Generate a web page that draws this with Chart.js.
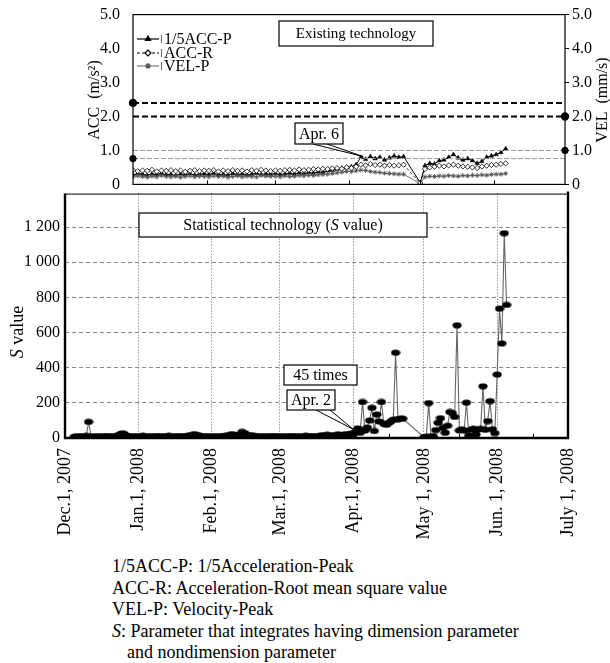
<!DOCTYPE html>
<html lang="en">
<head>
<meta charset="utf-8">
<style>
  body { margin: 0; background: #fff; width: 610px; height: 663px; position: relative; overflow: hidden;
         font-family: 'Liberation Serif', 'Times New Roman', serif; color: #000; }
  canvas { position: absolute; left: 0; }
  #topChart { top: 0; }
  #sChart { top: 179px; }
  .notes { position: absolute; left: 112px; top: 556px; font-size: 18px; line-height: 21.6px; white-space: nowrap; }
  .notes .indent { padding-left: 15px; }
</style>
</head>
<body>
<canvas id="topChart" width="610" height="199"></canvas>
<canvas id="sChart" width="610" height="369"></canvas>
<div class="notes">
  <div>1/5ACC-P: 1/5Acceleration-Peak</div>
  <div>ACC-R: Acceleration-Root mean square value</div>
  <div>VEL-P: Velocity-Peak</div>
  <div><i>S</i>: Parameter that integrates having dimension parameter</div>
  <div class="indent">and nondimension parameter</div>
</div>
<script src="https://cdn.jsdelivr.net/npm/chart.js"></script>
<script>
  const FONT = "'Liberation Serif', 'Times New Roman', serif";

  /* ---------------- data ---------------- */

  // month axis (days counted from Dec. 1, 2007)
  const monthDays = [0, 31, 62, 91, 122, 152, 183, 213];
  const monthLabels = ['Dec.1, 2007', 'Jan.1, 2008', 'Feb.1, 2008', 'Mar.1, 2008',
    'Apr.1, 2008', 'May 1, 2008', 'Jun. 1, 2008', 'July 1, 2008'];
  const midMonthDays = [15, 46, 76, 106, 137, 167, 198];
  const topTicks = [0, 1, 2, 3, 4, 5];
  const sTicks = [0, 200, 400, 600, 800, 1000, 1200];

  // existing technology: sampled dates (2008, MM-DD)
  const topDates = [
    '01-01', '01-03', '01-05', '01-07', '01-09', '01-11', '01-13', '01-15', '01-17', '01-19', '01-21', '01-23', '01-25', '01-27', '01-29', '01-31',
    '02-02', '02-04', '02-06', '02-08', '02-10', '02-12', '02-14', '02-16', '02-18', '02-20', '02-22', '02-24', '02-26', '02-28',
    '03-01', '03-03', '03-05', '03-07', '03-09', '03-11', '03-13', '03-15', '03-17', '03-19', '03-21', '03-23', '03-25', '03-27', '03-29', '03-31',
    '04-02', '04-04', '04-06', '04-08', '04-10', '04-12', '04-14', '04-16', '04-18', '04-20', '04-22', '04-24',
    '05-01', '05-03', '05-05', '05-07', '05-09', '05-11', '05-13', '05-15', '05-17', '05-19', '05-21', '05-23', '05-25', '05-27', '05-29', '05-31',
    '06-02', '06-04', '06-06'
  ];
  const accP = [
    0.28, 0.32, 0.30, 0.27, 0.31, 0.29, 0.33, 0.28, 0.30, 0.26, 0.31, 0.29, 0.32, 0.27, 0.30, 0.31,
    0.29, 0.33, 0.28, 0.30, 0.27, 0.32, 0.29, 0.31, 0.28, 0.30, 0.33, 0.29, 0.31, 0.30,
    0.32, 0.29, 0.31, 0.33, 0.30, 0.34, 0.32, 0.35, 0.33, 0.37, 0.36, 0.40, 0.42, 0.45, 0.48, 0.50,
    0.52, 0.58, 0.80, 0.74, 0.82, 0.76, 0.80, 0.72, 0.78, 0.84, 0.80, 0.82,
    0.05, 0.55, 0.62, 0.60, 0.70, 0.72, 0.80, 0.88, 0.78, 0.72, 0.76, 0.70, 0.62, 0.68, 0.80, 0.84,
    0.88, 0.94, 1.05
  ];
  const accR = [
    0.42, 0.39, 0.41, 0.40, 0.43, 0.38, 0.41, 0.40, 0.42, 0.39, 0.41, 0.37, 0.40, 0.42, 0.39, 0.41,
    0.40, 0.42, 0.38, 0.41, 0.39, 0.42, 0.40, 0.41, 0.38, 0.42, 0.40, 0.43, 0.41, 0.39,
    0.41, 0.40, 0.42, 0.43, 0.41, 0.44, 0.42, 0.43, 0.45, 0.44, 0.46, 0.45, 0.47, 0.48, 0.46, 0.50,
    0.48, 0.52, 0.58, 0.56, 0.60, 0.57, 0.58, 0.55, 0.57, 0.55, 0.56, 0.58,
    0.04, 0.45, 0.50, 0.52, 0.55, 0.53, 0.56, 0.58, 0.55, 0.53, 0.52, 0.50, 0.48, 0.53, 0.55, 0.57,
    0.58, 0.60, 0.62
  ];
  const velP = [
    0.22, 0.25, 0.23, 0.21, 0.24, 0.22, 0.26, 0.23, 0.22, 0.24, 0.21, 0.23, 0.25, 0.22, 0.24, 0.23,
    0.22, 0.25, 0.23, 0.24, 0.21, 0.23, 0.25, 0.22, 0.24, 0.23, 0.22, 0.26, 0.24, 0.23,
    0.24, 0.22, 0.25, 0.23, 0.24, 0.26, 0.25, 0.27, 0.26, 0.28, 0.29, 0.30, 0.32, 0.34, 0.36, 0.38,
    0.38, 0.40, 0.42, 0.41, 0.38, 0.36, 0.35, 0.33, 0.32, 0.31, 0.30, 0.30,
    0.02, 0.22, 0.24, 0.23, 0.25, 0.24, 0.26, 0.25, 0.24, 0.26, 0.25, 0.27, 0.26, 0.28, 0.27, 0.29,
    0.30, 0.30, 0.32
  ];
  const accLimits = [2.4, 0.76];  // left axis, dot on the left
  const velLimits = [2.0, 1.0];   // right axis, dot on the right

  // statistical technology: daily S value, index = day of month - 1
  const sDec = [null, null, null, null, 8, 9, 10, 8, 9, 12, 92, 10, 8, 9, 10, 9, 8, 10, 11, 9, 8, 10, 12, 18, 26, 24, 14, 10, 9, 8, 10];
  const sJan = [9, 8, 12, 10, 9, 8, 10, 9, 11, 10, 8, 9, 10, 12, 9, 8, 10, 9, 11, 10, 9, 12, 14, 18, 22, 16, 12, 10, 9, 10, 8];
  const sFeb = [9, 10, 8, 9, 10, 11, 12, 14, 18, 22, 15, 12, 20, 35, 28, 18, 16, 14, 12, 10, 9, 10, 8, 9, 10, 9, 11, 10, 9];
  const sMar = [9, 10, 8, 9, 10, 11, 9, 10, 8, 9, 10, 12, 10, 9, 11, 10, 9, 12, 14, 16, 18, 15, 12, 14, 18, 20, 16, 18, 20, 22, 25];
  const sApr = [20, 35, 55, 30, 205, 43, 60, 100, 172, 40, 134, 94, 205, 81, 75, 85, 95, 104, 485, 108, 110, 110,
    null, null, null, null, null, null, null, null];
  const sMay = [5, 8, 199, 10, 8, 45, 87, 113, 58, 30, 70, 148, 142, 120, 641, 43, 50, 43, 201, 14, 47, 53, 20, 48, 52, 294, 47, 96, 210, 50, 28];
  const sJun = [361, 736, 538, 1165, 757];

  /* ---------------- helpers ---------------- */

  const BASE = Date.UTC(2007, 11, 1);
  function dayOf(y, m, d) {
    return (Date.UTC(y, m - 1, d) - BASE) / 86400000;
  }

  function topPoints(values) {
    return topDates.map((s, i) => ({ x: dayOf(2008, +s.slice(0, 2), +s.slice(3)), y: values[i] }));
  }

  const sPoints = [];
  [[2007, 12, sDec], [2008, 1, sJan], [2008, 2, sFeb], [2008, 3, sMar], [2008, 4, sApr], [2008, 5, sMay], [2008, 6, sJun]]
    .forEach(([y, m, vals]) => vals.forEach((v, i) => {
      if (v !== null) sPoints.push({ x: dayOf(y, m, i + 1), y: v });
    }));

  function richText(ctx, parts, cx, cy, size) {
    size = size || 16;
    let w = 0;
    parts.forEach(p => {
      ctx.font = (p.i ? 'italic ' : '') + size + 'px ' + FONT;
      w += ctx.measureText(p.t).width;
    });
    let x = cx - w / 2;
    ctx.textBaseline = 'middle';
    ctx.textAlign = 'left';
    ctx.fillStyle = '#000';
    parts.forEach(p => {
      ctx.font = (p.i ? 'italic ' : '') + size + 'px ' + FONT;
      ctx.fillText(p.t, x, cy);
      x += ctx.measureText(p.t).width;
    });
  }

  function textBox(ctx, parts, x1, y1, x2, y2, size) {
    ctx.save();
    ctx.fillStyle = '#fff';
    ctx.fillRect(x1, y1, x2 - x1, y2 - y1);
    ctx.strokeStyle = '#000';
    ctx.lineWidth = 1.2;
    ctx.strokeRect(x1, y1, x2 - x1, y2 - y1);
    richText(ctx, parts, (x1 + x2) / 2, (y1 + y2) / 2 + 1, size);
    ctx.restore();
  }

  function wedge(ctx, ax, bx, by, tx, ty) {
    ctx.save();
    ctx.beginPath();
    ctx.moveTo(ax, by);
    ctx.lineTo(tx, ty);
    ctx.lineTo(bx, by);
    ctx.fillStyle = '#fff';
    ctx.fill();
    ctx.strokeStyle = '#000';
    ctx.lineWidth = 1;
    ctx.stroke();
    ctx.restore();
  }

  function vTitle(ctx, parts, cx, cy, size) {
    ctx.save();
    ctx.translate(cx, cy);
    ctx.rotate(-Math.PI / 2);
    richText(ctx, parts, 0, 0, size || 16);
    ctx.restore();
  }

  /* ---------------- top chart ---------------- */

  const limitSets = [];
  accLimits.forEach((v, i) => limitSets.push({
    data: [{ x: 31, y: v }, { x: 213, y: v }], yAxisID: 'y',
    borderColor: i === 0 ? '#000' : '#999', borderWidth: i === 0 ? 2 : 1, borderDash: i === 0 ? [6, 3] : [5, 2],
    pointRadius: [3.2, 0], pointBackgroundColor: '#000', pointBorderColor: '#000', clip: false
  }));
  velLimits.forEach((v, i) => limitSets.push({
    data: [{ x: 31, y: v }, { x: 213, y: v }], yAxisID: 'y2',
    borderColor: i === 0 ? '#000' : '#999', borderWidth: i === 0 ? 2 : 1, borderDash: i === 0 ? [6, 3] : [5, 2],
    pointRadius: [0, 3.2], pointBackgroundColor: '#000', pointBorderColor: '#000', clip: false
  }));

  const seriesStyle = {
    'ACC-R': { borderColor: '#000', borderWidth: 0.8, borderDash: [3, 2], pointStyle: 'rectRot', pointRadius: 2.6,
      pointBackgroundColor: '#fff', pointBorderColor: '#000', pointBorderWidth: 0.8 },
    'VEL-P': { borderColor: '#777', borderWidth: 1, pointStyle: 'star', pointRadius: 2.4,
      pointBackgroundColor: '#555', pointBorderColor: '#555', pointBorderWidth: 0.9 },
    '1/5ACC-P': { borderColor: '#000', borderWidth: 1, pointStyle: 'triangle', pointRadius: 2.6,
      pointBackgroundColor: '#000', pointBorderColor: '#000', pointBorderWidth: 0.5 }
  };

  const topDecor = {
    id: 'topDecor',
    afterDraw(chart) {
      const ctx = chart.ctx;
      const a = chart.chartArea;
      const xs = chart.scales.x, ys = chart.scales.y;
      ctx.save();
      ctx.strokeStyle = '#000';
      ctx.lineWidth = 1.2;
      ctx.strokeRect(a.left, a.top, a.right - a.left, a.bottom - a.top);
      ctx.lineWidth = 1;
      monthDays.slice(2, 7).forEach(d => {
        const x = Math.round(xs.getPixelForValue(d)) + 0.5;
        ctx.beginPath();
        ctx.moveTo(x, a.bottom);
        ctx.lineTo(x, a.bottom - 4);
        ctx.stroke();
      });
      ctx.restore();

      vTitle(ctx, [{ t: 'ACC  (m/s²)' }], 95, 100);
      vTitle(ctx, [{ t: 'VEL  (mm/s)' }], 603, 100);

      // legend
      const rows = [['1/5ACC-P', 39], ['ACC-R', 53], ['VEL-P', 66]];
      rows.forEach(([name, y]) => {
        const st = seriesStyle[name];
        ctx.save();
        ctx.strokeStyle = st.borderColor;
        ctx.lineWidth = 1.2;
        ctx.setLineDash(st.borderDash || []);
        ctx.beginPath();
        ctx.moveTo(137, y);
        ctx.lineTo(159, y);
        ctx.stroke();
        ctx.setLineDash([]);
        ctx.fillStyle = st.pointBackgroundColor;
        ctx.strokeStyle = st.pointBorderColor;
        Chart.helpers.drawPoint(ctx, { pointStyle: st.pointStyle, radius: 3, rotation: 0, borderWidth: 1 }, 148, y);
        ctx.strokeStyle = '#777';
        ctx.beginPath();
        ctx.moveTo(161.5, y - 4);
        ctx.lineTo(161.5, y + 4);
        ctx.stroke();
        ctx.font = '16px ' + FONT;
        ctx.fillStyle = '#000';
        ctx.textBaseline = 'middle';
        ctx.textAlign = 'left';
        ctx.fillText(name, 164, y + 1);
        ctx.restore();
      });

      textBox(ctx, [{ t: 'Existing technology' }], 279, 21, 433, 46, 15);
      wedge(ctx, 313, 327, 144, xs.getPixelForValue(dayOf(2008, 4, 7)), ys.getPixelForValue(0.82));
      textBox(ctx, [{ t: 'Apr. 6' }], 295, 123, 343, 144, 16);
    }
  };

  const tickFont = { family: FONT, size: 16 };
  const topLabel = v => v === 0 ? '0' : v.toFixed(1);

  new Chart(document.getElementById('topChart'), {
    type: 'line',
    data: {
      datasets: limitSets.concat(['ACC-R', 'VEL-P', '1/5ACC-P'].map(name => Object.assign({
        label: name,
        data: topPoints(name === 'ACC-R' ? accR : name === 'VEL-P' ? velP : accP),
        yAxisID: name === 'VEL-P' ? 'y2' : 'y'
      }, seriesStyle[name])))
    },
    options: {
      responsive: false,
      animation: false,
      layout: { padding: { top: 14, bottom: 9, left: 0, right: 0 } },
      plugins: { legend: { display: false }, tooltip: { enabled: false } },
      scales: {
        x: { type: 'linear', min: 31, max: 213, display: false },
        y: {
          position: 'left', min: 0, max: 5,
          afterBuildTicks: s => { s.ticks = topTicks.map(v => ({ value: v })); },
          ticks: { padding: 5, color: '#000', font: tickFont, callback: topLabel },
          grid: { display: false }, border: { display: false },
          afterFit: s => { s.width = 133; }
        },
        y2: {
          position: 'right', min: 0, max: 5,
          afterBuildTicks: s => { s.ticks = topTicks.map(v => ({ value: v })); },
          ticks: { padding: 3, color: '#000', font: tickFont, callback: topLabel },
          grid: { display: true, drawOnChartArea: false, drawTicks: true, tickLength: 4, color: '#000' },
          border: { display: false },
          afterFit: s => { s.width = 45; }
        }
      }
    },
    plugins: [topDecor]
  });

  /* ---------------- S value chart ---------------- */

  const dotImg = document.createElement('canvas');
  dotImg.width = 10;
  dotImg.height = 7;
  const dctx = dotImg.getContext('2d');
  dctx.fillStyle = '#000';
  dctx.beginPath();
  dctx.ellipse(5, 3.5, 4.6, 3.1, 0, 0, Math.PI * 2);
  dctx.fill();

  const sDecor = {
    id: 'sDecor',
    afterDraw(chart) {
      const ctx = chart.ctx;
      const a = chart.chartArea;
      const xs = chart.scales.x, ys = chart.scales.y;
      ctx.save();
      ctx.strokeStyle = '#000';
      ctx.lineWidth = 1;
      ctx.beginPath();
      ctx.moveTo(a.left, a.top + 0.5);
      ctx.lineTo(a.right, a.top + 0.5);
      ctx.stroke();
      ctx.lineWidth = 2.4;
      ctx.beginPath();
      ctx.moveTo(a.left, a.top);
      ctx.lineTo(a.left, a.bottom);
      ctx.lineTo(a.right, a.bottom);
      ctx.lineTo(a.right, a.top - 2);
      ctx.stroke();
      ctx.lineWidth = 1;
      midMonthDays.forEach(d => {
        const x = Math.round(xs.getPixelForValue(d)) + 0.5;
        ctx.beginPath();
        ctx.moveTo(x, a.bottom);
        ctx.lineTo(x, a.bottom - 4);
        ctx.stroke();
      });
      ctx.restore();

      vTitle(ctx, [{ t: 'S', i: true }, { t: ' value' }], 18, 153, 18);

      textBox(ctx, [{ t: 'Statistical technology (' }, { t: 'S', i: true }, { t: ' value)' }], 139, 34, 427, 58, 16);
      textBox(ctx, [{ t: '45 times' }], 284, 186, 357, 206, 16);
      wedge(ctx, 316, 330, 231, xs.getPixelForValue(dayOf(2008, 4, 1)), ys.getPixelForValue(50));
      textBox(ctx, [{ t: 'Apr. 2' }], 287, 211, 335, 231, 16);
    }
  };

  new Chart(document.getElementById('sChart'), {
    type: 'line',
    data: {
      datasets: [{
        label: 'S',
        data: sPoints,
        borderColor: '#666',
        borderWidth: 1.1,
        pointStyle: dotImg,
        pointRadius: 4,
        tension: 0
      }]
    },
    options: {
      responsive: false,
      animation: false,
      layout: { padding: { top: 7, right: 42, left: 0, bottom: 0 } },
      plugins: { legend: { display: false }, tooltip: { enabled: false } },
      scales: {
        x: {
          type: 'linear', min: 0, max: 213,
          afterBuildTicks: s => { s.ticks = monthDays.map(v => ({ value: v })); },
          ticks: { callback: (v, i) => monthLabels[i], minRotation: 90, maxRotation: 90, autoSkip: false,
            padding: 10, color: '#000', font: { family: FONT, size: 18 } },
          grid: { color: '#666', drawTicks: false, lineWidth: 1 },
          border: { display: false, dash: [1, 2] },
          afterFit: s => { s.height = 110; }
        },
        y: {
          type: 'linear', min: 0, max: 1390,
          afterBuildTicks: s => { s.ticks = sTicks.map(v => ({ value: v })); },
          ticks: {
            autoSkip: false, padding: 5, color: '#000', font: tickFont,
            callback: (v, i) => {
              const n = sTicks[i];
              return n >= 1000 ? Math.floor(n / 1000) + ' ' + String(n % 1000).padStart(3, '0') : String(n);
            }
          },
          grid: { color: '#888', drawTicks: false },
          border: { display: false, dash: [4, 3] },
          afterFit: s => { s.width = 65; }
        }
      }
    },
    plugins: [sDecor]
  });
</script>
</body>
</html>
